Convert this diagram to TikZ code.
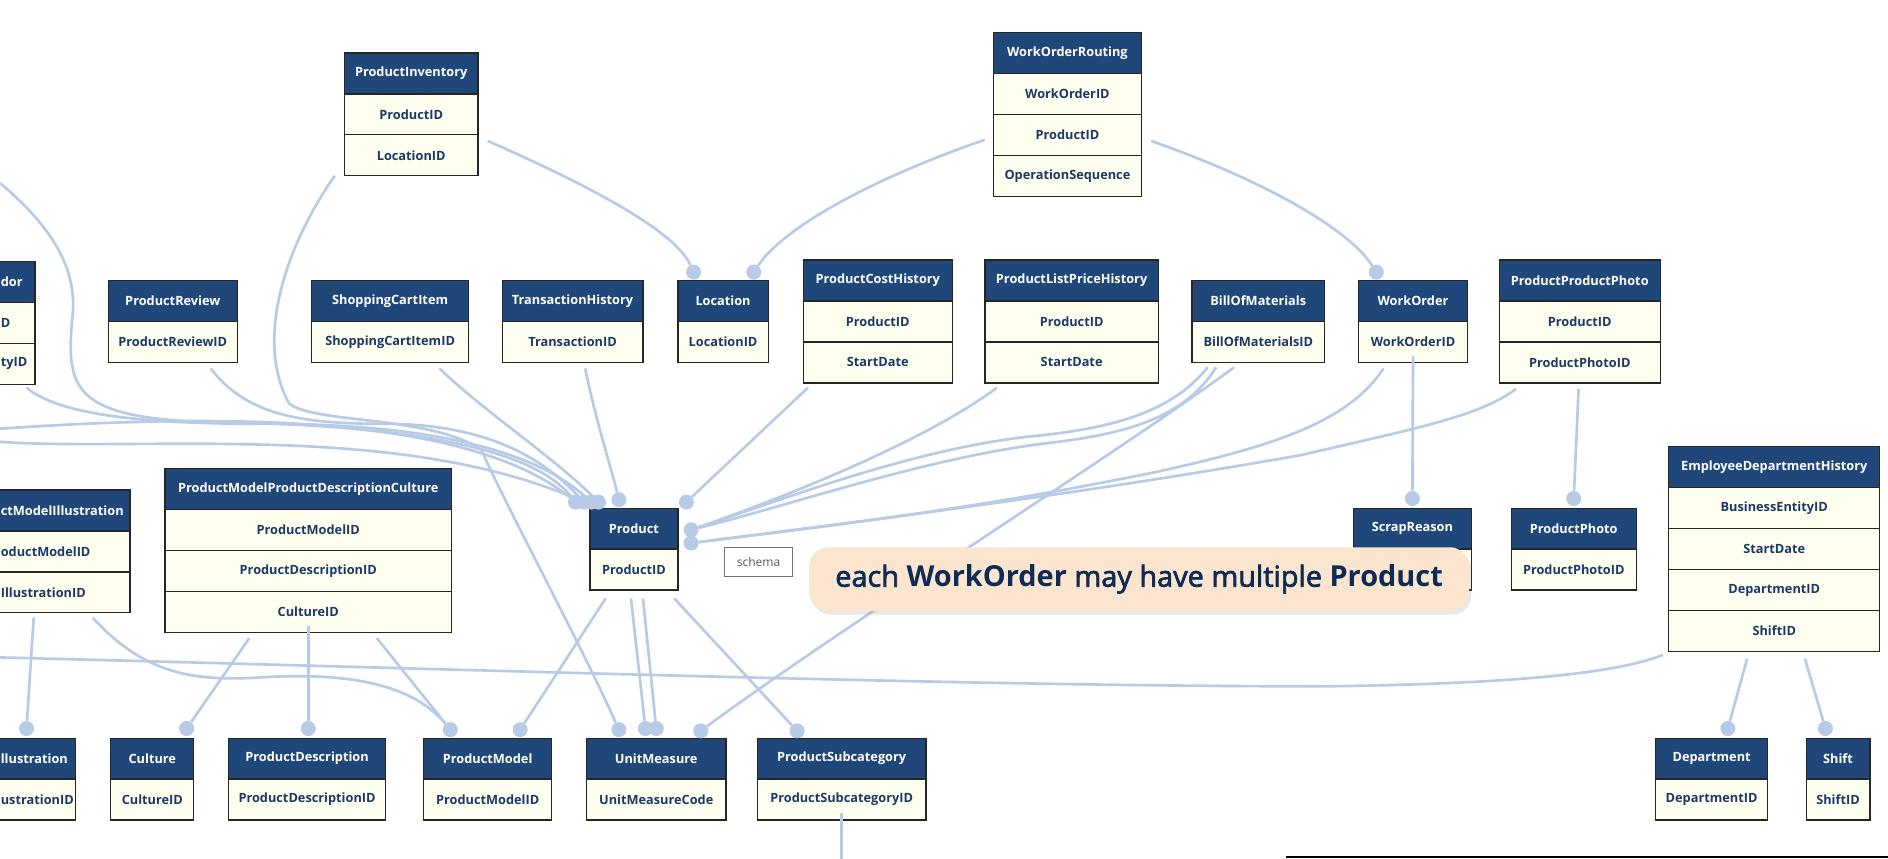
\documentclass[tikz,border=0pt]{standalone}
\usepackage{fontspec}
\setmainfont{Open Sans}
\newcommand\notesemi[1]{\special{pdf:literal direct 2 Tr 0.55 w}#1\special{pdf:literal direct 0 Tr}}
\usetikzlibrary{positioning,shadows}

\definecolor{hdrblue}{RGB}{31,71,122}
\definecolor{fldbg}{RGB}{255,255,240}
\definecolor{fldtxt}{RGB}{27,57,104}
\definecolor{linkblue}{RGB}{184,203,230}
\definecolor{notebg}{RGB}{252,229,207}
\definecolor{notetxt}{RGB}{12,43,85}

\tikzset{
	hdr/.style={draw=black!85, fill=hdrblue, text=white, font=\fontsize{10.6}{12}\selectfont\bfseries,
		minimum height=34pt, inner sep=0pt, outer sep=0pt, line width=1pt, anchor=north west},
	fld/.style={draw=black!85, fill=fldbg, text=fldtxt, font=\fontsize{10.6}{12}\selectfont\bfseries,
		minimum height=34pt, inner sep=0pt, outer sep=0pt, line width=1pt},
	hdrtxt/.style={text=white, font=\fontsize{10.6}{12}\selectfont\bfseries, inner sep=0pt, anchor=west},
	fldtext/.style={text=fldtxt, font=\fontsize{10.6}{12}\selectfont\bfseries, inner sep=0pt, anchor=west},
	dot/.style={circle, fill=linkblue, inner sep=0pt, minimum size=12.5pt},
	link/.style={draw=linkblue, line width=2.2pt},
	note/.style={rounded corners=16pt, fill=notebg, text=notetxt, minimum width=548pt, minimum height=53pt,
		font=\fontsize{24}{28}\selectfont, inner sep=0pt,
		drop shadow={opacity=0.18, shadow xshift=2pt, shadow yshift=-3pt}},
	schm/.style={draw=black!55, fill=white, text=black!65, font=\fontsize{10}{12}\selectfont,
		minimum width=57pt, minimum height=24pt, inner sep=0pt, line width=0.8pt},
}

\begin{document}
\begin{tikzpicture}[x=1pt, y=-1pt]
	\useasboundingbox (0,0) rectangle (1568,713);
	\fill[white] (0,0) rectangle (1568,713);

	% tables, top row
	\node[hdr, minimum width=111] (pinv) at (286,44) {ProductInventory};
	\node[fld, minimum width=111, below=0pt of pinv] (pinv1) {ProductID};
	\node[fld, minimum width=111, below=0pt of pinv1] (pinv2) {LocationID};

	\node[hdr, minimum width=123] (wor) at (825,27) {WorkOrderRouting};
	\node[fld, minimum width=123, below=0pt of wor] (wor1) {WorkOrderID};
	\node[fld, minimum width=123, below=0pt of wor1] (wor2) {ProductID};
	\node[fld, minimum width=123, below=0pt of wor2] (wor3) {OperationSequence};

	% tables, second row
	\node[hdr, minimum width=31] (pvnd) at (-2,217) {};
	\node[fld, minimum width=31, below=0pt of pvnd] (pvnd1) {};
	\node[fld, minimum width=31, below=0pt of pvnd1] (pvnd2) {};
	\node[hdrtxt] (pvndt) at (0.5,234) {dor};
	\node[fldtext] (pvndt1) at (0.5,268) {D};
	\node[fldtext] (pvndt2) at (0.5,302) {tyID};

	\node[hdr, minimum width=107] (prv) at (90,233) {ProductReview};
	\node[fld, minimum width=107, below=0pt of prv] (prv1) {ProductReviewID};

	\node[hdr, minimum width=130] (sci) at (259,233) {ShoppingCartItem};
	\node[fld, minimum width=130, below=0pt of sci] (sci1) {ShoppingCartItemID};

	\node[hdr, minimum width=117] (trh) at (417,233) {TransactionHistory};
	\node[fld, minimum width=117, below=0pt of trh] (trh1) {TransactionID};

	\node[hdr, minimum width=75] (loc) at (563,233) {Location};
	\node[fld, minimum width=75, below=0pt of loc] (loc1) {LocationID};

	\node[hdr, minimum width=124] (pch) at (667,216) {ProductCostHistory};
	\node[fld, minimum width=124, below=0pt of pch] (pch1) {ProductID};
	\node[fld, minimum width=124, below=0pt of pch1] (pch2) {StartDate};

	\node[hdr, minimum width=144] (plph) at (818,216) {ProductListPriceHistory};
	\node[fld, minimum width=144, below=0pt of plph] (plph1) {ProductID};
	\node[fld, minimum width=144, below=0pt of plph1] (plph2) {StartDate};

	\node[hdr, minimum width=110] (bom) at (990,233) {BillOfMaterials};
	\node[fld, minimum width=110, below=0pt of bom] (bom1) {BillOfMaterialsID};

	\node[hdr, minimum width=91] (wo) at (1128,233) {WorkOrder};
	\node[fld, minimum width=91, below=0pt of wo] (wo1) {WorkOrderID};

	\node[hdr, minimum width=134] (ppp) at (1245,216) {ProductProductPhoto};
	\node[fld, minimum width=134, below=0pt of ppp] (ppp1) {ProductID};
	\node[fld, minimum width=134, below=0pt of ppp1] (ppp2) {ProductPhotoID};

	% tables, middle row
	\node[hdr, minimum width=110] (pmi) at (-2,407) {};
	\node[fld, minimum width=110, below=0pt of pmi] (pmi1) {};
	\node[fld, minimum width=110, below=0pt of pmi1] (pmi2) {};
	\node[hdrtxt] (pmit) at (0.5,424) {ctModelIllustration};
	\node[fldtext] (pmit1) at (0.5,458) {oductModelID};
	\node[fldtext] (pmit2) at (0.5,492) {IllustrationID};

	\node[hdr, minimum width=238] (pmpdc) at (137,389) {ProductModelProductDescriptionCulture};
	\node[fld, minimum width=238, below=0pt of pmpdc] (pmpdc1) {ProductModelID};
	\node[fld, minimum width=238, below=0pt of pmpdc1] (pmpdc2) {ProductDescriptionID};
	\node[fld, minimum width=238, below=0pt of pmpdc2] (pmpdc3) {CultureID};

	\node[hdr, minimum width=73] (prod) at (490,422) {Product};
	\node[fld, minimum width=73, below=0pt of prod] (prod1) {ProductID};

	\node[schm] (schema) at (630,467) {schema};

	\node[hdr, minimum width=98] (scr) at (1124,422) {ScrapReason};
	\node[fld, minimum width=98, below=0pt of scr] (scr1) {};

	\node[hdr, minimum width=104] (pph) at (1255,422) {ProductPhoto};
	\node[fld, minimum width=104, below=0pt of pph] (pph1) {ProductPhotoID};

	\node[hdr, minimum width=175] (edh) at (1386,371) {EmployeeDepartmentHistory};
	\node[fld, minimum width=175, below=0pt of edh] (edh1) {BusinessEntityID};
	\node[fld, minimum width=175, below=0pt of edh1] (edh2) {StartDate};
	\node[fld, minimum width=175, below=0pt of edh2] (edh3) {DepartmentID};
	\node[fld, minimum width=175, below=0pt of edh3] (edh4) {ShiftID};

	% tables, bottom row
	\node[hdr, minimum width=65] (ill) at (-2,613) {};
	\node[fld, minimum width=65, below=0pt of ill] (ill1) {};
	\node[hdrtxt] (illt) at (0.5,630) {llustration};
	\node[fldtext] (illt1) at (0.5,664) {ustrationID};

	\node[hdr, minimum width=69] (cul) at (92,613) {Culture};
	\node[fld, minimum width=69, below=0pt of cul] (cul1) {CultureID};

	\node[hdr, minimum width=130] (pdesc) at (190,613) {ProductDescription};
	\node[fld, minimum width=130, below=0pt of pdesc] (pdesc1) {ProductDescriptionID};

	\node[hdr, minimum width=106] (pmod) at (352,613) {ProductModel};
	\node[fld, minimum width=106, below=0pt of pmod] (pmod1) {ProductModelID};

	\node[hdr, minimum width=116] (um) at (487,613) {UnitMeasure};
	\node[fld, minimum width=116, below=0pt of um] (um1) {UnitMeasureCode};

	\node[hdr, minimum width=140] (psc) at (629,613) {ProductSubcategory};
	\node[fld, minimum width=140, below=0pt of psc] (psc1) {ProductSubcategoryID};

	\node[hdr, minimum width=93] (dep) at (1375,613) {Department};
	\node[fld, minimum width=93, below=0pt of dep] (dep1) {DepartmentID};

	\node[hdr, minimum width=53] (shf) at (1500,613) {Shift};
	\node[fld, minimum width=53, below=0pt of shf] (shf1) {ShiftID};

	% dots
	\node[dot] (locd1) at (576,226) {};
	\node[dot] (locd2) at (626,226) {};
	\node[dot] (wod) at (1143,226) {};
	\node[dot] (prd1) at (478,417) {};
	\node[dot] (prd2) at (485,417) {};
	\node[dot] (prd3) at (491,417) {};
	\node[dot] (prd4) at (497,417) {};
	\node[dot] (prd5) at (514,415) {};
	\node[dot] (pcd) at (570,417) {};
	\node[dot] (prr1) at (574,440) {};
	\node[dot] (prr2) at (574,451) {};
	\node[dot] (scrd) at (1173,414) {};
	\node[dot] (pphd) at (1307,414) {};
	\node[dot] (ild) at (22,605) {};
	\node[dot] (culd) at (155,605) {};
	\node[dot] (pdd) at (256,605) {};
	\node[dot] (pmodd1) at (374,606) {};
	\node[dot] (pmodd2) at (432,606) {};
	\node[dot] (umd1) at (514,606) {};
	\node[dot] (umd2) at (536,605) {};
	\node[dot] (umd3) at (545,605) {};
	\node[dot] (umd4) at (582,607) {};
	\node[dot] (pscd) at (662,607) {};
	\node[dot] (depd) at (1435,605) {};
	\node[dot] (shfd) at (1516,605) {};

	\coordinate (tlfree) at (0,152);
	\coordinate (lf1) at (0,356);
	\coordinate (lf2) at (0,367);
	\coordinate (lfree) at (0,546);
	\coordinate (pscfree) at (699,714);
	\coordinate (bl1) at (1068,712);
	\coordinate (bl2) at (1570,712);

	% connectors
	\draw[link] ([shift={(8,5)}]pinv2.north east) .. controls (480,150) and (560,190) .. (locd1);
	\draw[link] ([shift={(-7,4)}]wor2.west) .. controls (720,150) and (650,190) .. (locd2);
	\draw[link] ([shift={(8,5)}]wor2.east) .. controls (1050,150) and (1120,190) .. (wod);
	\draw[link] ([xshift=-8]pinv2.south west) .. controls (240,200) and (210,280) .. (240,335)
		.. controls (260,352) and (360,345) .. (400,374) .. controls (420,420) and (480,530) .. (umd1);
	\draw[link] (tlfree) .. controls (45,190) and (65,225) .. (60,265)
		.. controls (55,320) and (60,345) .. (160,350) .. controls (330,352) and (440,370) .. (prd1);
	\draw[link] (lf1) .. controls (150,346) and (380,338) .. (prd1);
	\draw[link] (lf2) .. controls (120,375) and (330,350) .. (prd2);
	\draw[link] ([shift={(-22,5)}]prv1.south east) .. controls (205,345) and (250,352) .. (320,352)
		.. controls (410,352) and (455,385) .. (prd2);
	\draw[link] ([shift={(-7,3)}]pvnd2.south east) .. controls (50,345) and (120,352) .. (220,352)
		.. controls (360,352) and (445,375) .. (prd3);
	\draw[link] ([shift={(-24,5)}]sci1.south east) .. controls (400,340) and (460,380) .. (prd4);
	\draw[link] ([shift={(-48,5)}]trh1.south east) .. controls (495,350) and (508,390) .. (prd5);
	\draw[link] ([shift={(4,4)}]pch2.south west) -- (pcd);
	\draw[link] ([shift={(10,4)}]plph2.south west) .. controls (770,365) and (660,410) .. (prr1);
	\draw[link] ([shift={(13,4)}]bom1.south west) .. controls (975,340) and (930,355) .. (860,362)
		.. controls (760,372) and (650,415) .. (prr1);
	\draw[link] ([shift={(20,4)}]bom1.south west) .. controls (985,345) and (940,360) .. (870,368)
		.. controls (770,380) and (655,420) .. (prr1);
	\draw[link] ([shift={(35,4)}]bom1.south west) .. controls (930,375) and (700,520) .. (umd4);
	\draw[link] ([shift={(21,5)}]wo1.south west) .. controls (1120,350) and (1060,370) .. (960,392)
		.. controls (800,425) and (660,440) .. (prr2);
	\draw[link] ([shift={(14,5)}]ppp2.south west) .. controls (1230,345) and (1180,355) .. (1080,378)
		.. controls (900,410) and (700,435) .. (prr2);
	\draw[link] ([yshift=5]wo1.south) -- (scrd);
	\draw[link] ([shift={(-1,5)}]ppp2.south) -- (pphd);
	\draw[link] ([shift={(13,7)}]prod1.south west) -- (pmodd2);
	\draw[link] ([shift={(34,7)}]prod1.south west) -- (umd2);
	\draw[link] ([shift={(44,7)}]prod1.south west) -- (umd3);
	\draw[link] ([shift={(70,7)}]prod1.south west) -- (pscd);
	\draw[link] ([shift={(70,5)}]pmpdc3.south west) -- (culd);
	\draw[link] ([yshift=5]pmpdc3.south) -- (pdd);
	\draw[link] ([shift={(176,5)}]pmpdc3.south west) -- (pmodd1);
	\draw[link] ([shift={(30,4)}]pmi2.south west) -- (ild);
	\draw[link] ([shift={(79,4)}]pmi2.south west) .. controls (120,560) and (160,565) .. (210,563)
		.. controls (280,558) and (340,565) .. (pmodd1);
	\draw[link] (lfree) .. controls (400,556) and (800,570) .. (1100,570)
		.. controls (1250,568) and (1340,560) .. ([shift={(-5,3)}]edh4.south west);
	\draw[link] ([shift={(65,6)}]edh4.south west) -- (depd);
	\draw[link] ([shift={(113,6)}]edh4.south west) -- (shfd);
	\draw[link] ([yshift=6]psc1.south) -- (pscfree);

	\draw[line width=1.5pt, black] (bl1) -- (bl2);

	% callout
	\node[note] (callout) at (946,481) {\notesemi{each} {\bfseries WorkOrder} \notesemi{may have multiple} {\bfseries Product}};
\end{tikzpicture}
\end{document}
